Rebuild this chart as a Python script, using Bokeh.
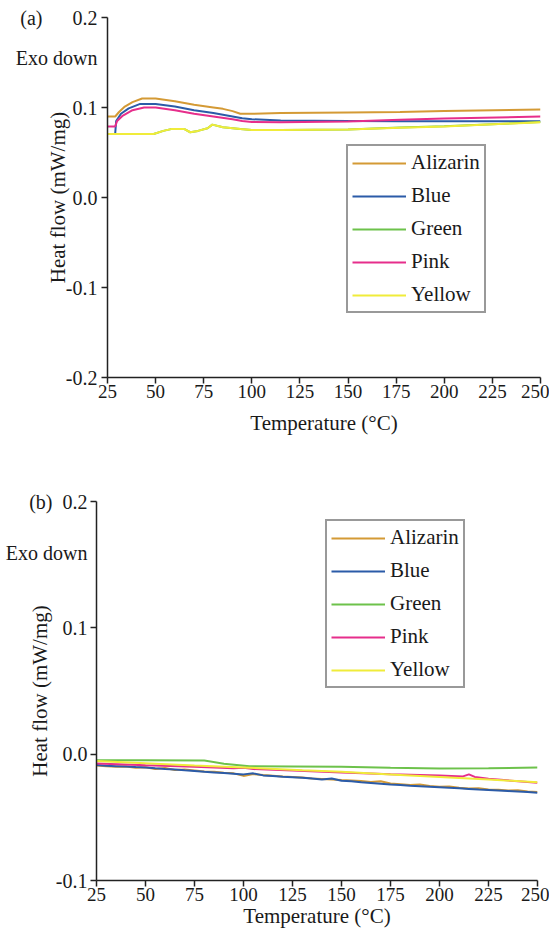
from bokeh.plotting import figure
from bokeh.layouts import column, row
from bokeh.models import FixedTicker, PrintfTickFormatter, Legend, LegendItem
from bokeh.embed import file_html
from bokeh.resources import INLINE

# ---------------- data: panel (a) ----------------
a_alizarin_t = [25, 29, 31, 34, 38, 43, 50, 60, 70, 80, 85, 90, 94, 100, 115, 150, 177, 200, 250]
a_alizarin_v = [0.090, 0.090, 0.095, 0.101, 0.106, 0.110, 0.110, 0.107, 0.103, 0.100, 0.0985, 0.096,
                0.093, 0.093, 0.094, 0.0945, 0.0950, 0.0960, 0.0978]
a_blue_t = [29, 29.5, 32, 36, 42, 50, 60, 70, 80, 90, 95, 100, 115, 150, 177, 200, 250]
a_blue_v = [0.071, 0.085, 0.093, 0.099, 0.104, 0.104, 0.101, 0.097, 0.094, 0.090, 0.088, 0.087,
            0.0855, 0.0850, 0.0847, 0.0846, 0.0846]
a_green_t = [25, 49, 54, 58, 65, 68, 72, 77, 79.5, 85, 94, 100, 115, 150, 177, 200, 250]
a_green_v = [0.0706, 0.0706, 0.074, 0.076, 0.076, 0.0725, 0.074, 0.077, 0.081, 0.078, 0.076, 0.075,
             0.075, 0.0755, 0.0777, 0.0792, 0.0838]
a_pink_t = [25, 29, 30, 33, 38, 44, 50, 60, 70, 80, 90, 95, 100, 115, 150, 177, 200, 250]
a_pink_v = [0.079, 0.079, 0.085, 0.091, 0.097, 0.100, 0.100, 0.097, 0.093, 0.090, 0.087, 0.085,
            0.0840, 0.0836, 0.0845, 0.0865, 0.0878, 0.0900]
a_yellow_t = [25, 49, 54, 58, 65, 68, 72, 77, 79.5, 85, 94, 100, 115, 150, 177, 200, 250]
a_yellow_v = [0.0706, 0.0706, 0.074, 0.076, 0.076, 0.0725, 0.074, 0.077, 0.081, 0.078, 0.076, 0.075,
              0.075, 0.0755, 0.0775, 0.0790, 0.0836]

# ---------------- data: panel (b) ----------------
b_t = [25, 30, 35, 40, 45, 50, 55, 60, 65, 70, 75, 80, 85, 90, 95, 100, 105, 110, 115, 120, 125,
       130, 135, 140, 145, 150, 155, 160, 165, 170, 175, 180, 185, 190, 195, 200, 205, 210, 215,
       220, 225, 230, 235, 240, 245, 250]
b_blue_v = [-0.0085, -0.0092, -0.0095, -0.0098, -0.0102, -0.0105, -0.0112, -0.0118, -0.0122, -0.0128,
            -0.0133, -0.0140, -0.0145, -0.0150, -0.0155, -0.0160, -0.0152, -0.0168, -0.0172, -0.0178,
            -0.0182, -0.0187, -0.0193, -0.0200, -0.0192, -0.0210, -0.0215, -0.0222, -0.0228, -0.0234,
            -0.0240, -0.0245, -0.0250, -0.0254, -0.0258, -0.0262, -0.0266, -0.0270, -0.0275, -0.0280,
            -0.0284, -0.0288, -0.0292, -0.0296, -0.0300, -0.0306]
b_alizarin_v = [-0.0090, -0.0095, -0.0100, -0.0098, -0.0108, -0.0104, -0.0118, -0.0110, -0.0125, -0.0122,
                -0.0130, -0.0138, -0.0140, -0.0148, -0.0152, -0.0172, -0.0158, -0.0165, -0.0170, -0.0176,
                -0.0180, -0.0184, -0.0192, -0.0196, -0.0200, -0.0205, -0.0208, -0.0212, -0.0220, -0.0215,
                -0.0232, -0.0238, -0.0245, -0.0240, -0.0252, -0.0258, -0.0255, -0.0265, -0.0272, -0.0270,
                -0.0280, -0.0282, -0.0288, -0.0286, -0.0296, -0.0300]
b_green_t = [25, 50, 80, 90, 103, 125, 150, 175, 200, 225, 250]
b_green_v = [-0.0048, -0.0048, -0.0050, -0.0075, -0.0095, -0.0097, -0.0100, -0.0108, -0.0114, -0.0112, -0.0106]
b_pink_t = [25, 50, 75, 95, 100, 105, 125, 150, 175, 200, 212, 215, 218, 225, 250]
b_pink_v = [-0.0074, -0.0088, -0.0100, -0.0112, -0.0108, -0.0118, -0.0130, -0.0145, -0.0158, -0.0168,
            -0.0176, -0.0160, -0.0180, -0.0195, -0.0227]
b_yellow_t = [25, 75, 100, 130, 150, 175, 200, 225, 250]
b_yellow_v = [-0.0055, -0.0090, -0.0105, -0.0127, -0.0140, -0.0160, -0.0180, -0.0200, -0.0222]

x_ticks = [25, 50, 75, 100, 125, 150, 175, 200, 225, 250]
a_y_ticks = [-0.2, -0.1, 0.0, 0.1, 0.2]
b_y_ticks = [-0.1, 0.0, 0.1, 0.2]
names = ["Alizarin", "Blue", "Green", "Pink", "Yellow"]
colors = ["#D49A35", "#2B5BA8", "#6DC24B", "#E62E8B", "#F0EC3A"]

# texts placed beside the y axis
a_panel_tag = "(a)"
b_panel_tag = "(b)"
exo_text = "Exo down"
a_exo_at = 0.155
b_exo_at = 0.159

FONT = "Liberation Serif"
TXT = "#1a1a1a"
NB = "\u00a0"


def style(p, yt, tag, gap, exo_at, ylabel_standoff, ytick_standoff, xlabel_standoff):
    p.xaxis.ticker = FixedTicker(ticks=x_ticks)
    # major ticks carry the labels (incl. the 'Exo down' note), minor ticks draw the marks
    p.yaxis.ticker = FixedTicker(ticks=yt + [exo_at], minor_ticks=yt)
    p.yaxis.formatter = PrintfTickFormatter(format="%.1f")
    top = max(yt)
    p.yaxis.major_label_overrides = {top: tag + NB * gap + "%.1f" % top, exo_at: exo_text}
    p.xgrid.visible = False
    p.ygrid.visible = False
    p.outline_line_color = None
    for ax in (p.xaxis, p.yaxis):
        ax.axis_line_color = "#222222"
        ax.axis_line_width = 1.5
        ax.major_tick_line_color = "#222222"
        ax.major_tick_line_width = 1.5
        ax.major_tick_out = 6
        ax.major_tick_in = 0
        ax.minor_tick_line_color = None
        ax.major_label_text_font = FONT
        ax.major_label_text_color = TXT
        ax.axis_label_text_font = FONT
        ax.axis_label_text_font_size = "21px"
        ax.axis_label_text_font_style = "normal"
        ax.axis_label_text_color = TXT
    p.xaxis.major_label_text_font_size = "19px"
    p.yaxis.major_label_text_font_size = "20px"
    p.yaxis.major_tick_line_color = None
    p.yaxis.minor_tick_line_color = "#222222"
    p.yaxis.minor_tick_line_width = 1.5
    p.yaxis.minor_tick_out = 6
    p.yaxis.minor_tick_in = 0
    p.xaxis.major_label_standoff = 1
    p.xaxis.axis_label_standoff = xlabel_standoff
    p.yaxis.major_label_standoff = ytick_standoff
    p.yaxis.axis_label_standoff = ylabel_standoff
    p.xaxis.axis_label = "Temperature (°C)"
    p.yaxis.axis_label = "Heat flow (mW/mg)"


def add_legend(p, renderers, lx, ly):
    items = [LegendItem(label=n, renderers=[r]) for n, r in zip(names, renderers)]
    leg = Legend(items=items, location=(lx, ly))
    leg.label_text_font = FONT
    leg.label_text_font_size = "21px"
    leg.label_text_color = TXT
    leg.glyph_width = 54
    leg.glyph_height = 24
    leg.label_height = 24
    leg.spacing = 8
    leg.padding = 4
    leg.margin = 0
    leg.label_standoff = 5
    leg.border_line_color = "#333333"
    leg.border_line_width = 2
    leg.background_fill_alpha = 1.0
    p.add_layout(leg, "center")


# ---------------- panel (a) ----------------
p1 = figure(frame_width=433, frame_height=360, x_range=(25, 250), y_range=(-0.2, 0.2),
            output_backend="svg", toolbar_location=None,
            min_border_left=107, min_border_right=9, min_border_top=17, min_border_bottom=101)
style(p1, a_y_ticks, a_panel_tag, 6, a_exo_at, -57, 4, 10)
ra = []
for t, v, c in [(a_alizarin_t, a_alizarin_v, colors[0]), (a_blue_t, a_blue_v, colors[1]),
                (a_green_t, a_green_v, colors[2]), (a_pink_t, a_pink_v, colors[3]),
                (a_yellow_t, a_yellow_v, colors[4])]:
    ra.append(p1.line(t, v, line_color=c, line_width=2))
add_legend(p1, ra, 239, 64)

# ---------------- panel (b) ----------------
p2 = figure(frame_width=441, frame_height=379, x_range=(25, 250), y_range=(-0.1, 0.2),
            output_backend="svg", toolbar_location=None,
            min_border_left=96, min_border_right=12, min_border_top=23, min_border_bottom=54)
style(p2, b_y_ticks, b_panel_tag, 2, b_exo_at, -49, 3, 0)
rb = []
for t, v, c in [(b_t, b_alizarin_v, colors[0]), (b_t, b_blue_v, colors[1]),
                (b_green_t, b_green_v, colors[2]), (b_pink_t, b_pink_v, colors[3]),
                (b_yellow_t, b_yellow_v, colors[4])]:
    rb.append(p2.line(t, v, line_color=c, line_width=2))
add_legend(p2, rb, 229, 192)

layout = column(row(p1), row(p2), spacing=0)
open("out.html", "w").write(file_html(layout, INLINE))
